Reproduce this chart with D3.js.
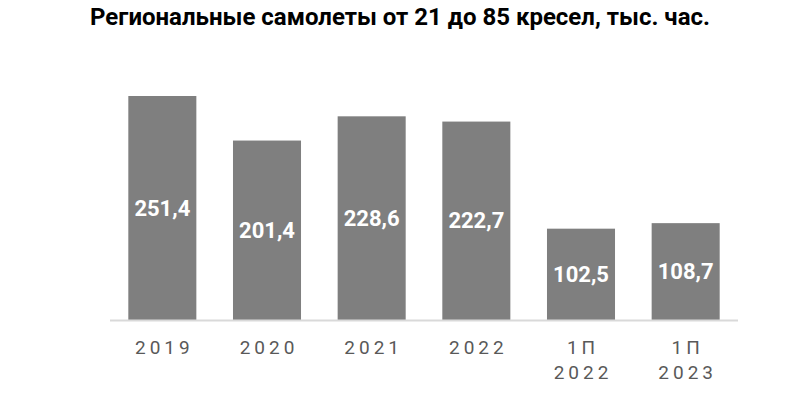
<!DOCTYPE html>
<html><head><meta charset="utf-8">
<script src="https://cdn.jsdelivr.net/npm/d3@7"></script>
<style>body{margin:0;background:#fff}</style>
</head><body><svg id="c" width="802" height="400"></svg>
<script>
const categories = [["2019"],["2020"],["2021"],["2022"],["1П","2022"],["1П","2023"]];
const values = [251.4, 201.4, 228.6, 222.7, 102.5, 108.7];
const title = "Региональные самолеты от 21 до 85 кресел, тыс. час.";

const svg = d3.select("#c");
const x = d3.scaleBand().domain(d3.range(values.length)).range([110, 738]).paddingInner(0.35).paddingOuter(0.175);
const y = d3.scaleLinear().domain([0, 251.4]).range([320, 96]);

svg.append("text").attr("x", 400).attr("y", 25).attr("text-anchor", "middle")
  .attr("font-family", "Roboto").attr("font-weight", "bold").attr("font-size", 24).attr("fill", "#000").text(title);

svg.selectAll("rect.bar").data(values).join("rect").attr("class","bar")
  .attr("x", (d,i)=>x(i)).attr("width", x.bandwidth())
  .attr("y", d=>y(d)).attr("height", d=>y(0)-y(d)).attr("fill", "#7f7f7f");

svg.append("line").attr("x1", 110).attr("x2", 738).attr("y1", y(0)+0.5).attr("y2", y(0)+0.5)
  .attr("stroke", "#d9d9d9").attr("stroke-width", 2);

svg.selectAll("text.val").data(values).join("text").attr("class","val")
  .attr("x", (d,i)=>x(i)+x.bandwidth()/2).attr("y", d=>(y(d)+y(0))/2)
  .attr("dy", "0.35em").attr("text-anchor", "middle")
  .attr("font-family", "Roboto").attr("font-weight", "bold").attr("font-size", 22).attr("fill", "#fff")
  .text(d=>d.toFixed(1).replace(".", ","));

const lab = svg.selectAll("g.lab").data(categories).join("g").attr("class","lab")
  .attr("transform", (d,i)=>`translate(${x(i)+x.bandwidth()/2},0)`);
lab.selectAll("text").data(d=>d).join("text")
  .attr("x", 2).attr("y", (d,j)=>354 + j*25).attr("text-anchor","middle")
  .attr("font-family","Roboto").attr("font-size",19).attr("letter-spacing","4px").attr("fill","#595959")
  .text(d=>d);
</script></body></html>
